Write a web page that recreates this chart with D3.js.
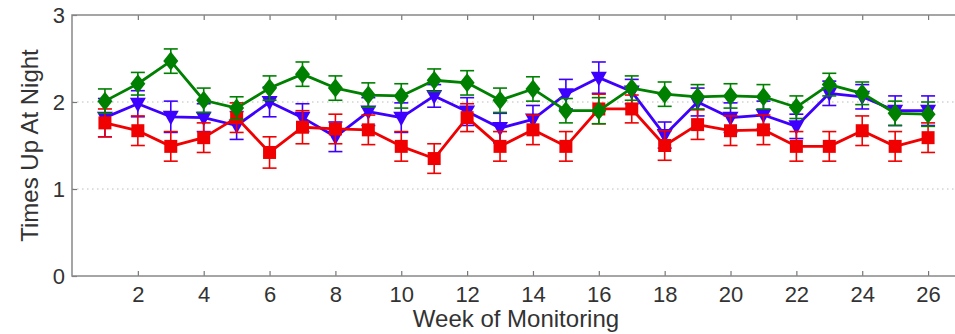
<!DOCTYPE html>
<meta charset="utf-8">
<style>
body { margin: 0; background: #fff; }
svg { font-family: "Liberation Sans", Arial, sans-serif; }
.axis text { font-size: 22px; fill: #333; }
.axis line { stroke: #777; stroke-width: 1.2; }
.axis path { display: none; }
.frame { fill: none; stroke: #888; stroke-width: 1.5; }
.grid line { stroke: #bbb; stroke-dasharray: 1.5,3.5; }
.label { font-size: 24px; fill: #333; }
</style>
<body>
<script src="https://cdn.jsdelivr.net/npm/d3@7"></script>
<script>

var width = 955,
    height = 334,
    margin = {top: 15, right: -6, bottom: 58, left: 72};

// weeks of monitoring
var weeks = d3.range(1, 27);

// mean times up at night, per group
var greenVals = [2.01, 2.21, 2.47, 2.02, 1.93, 2.16, 2.32, 2.16, 2.08, 2.07, 2.25, 2.22, 2.02,
                 2.15, 1.90, 1.90, 2.16, 2.09, 2.06, 2.07, 2.06, 1.94, 2.20, 2.10, 1.87, 1.86];
var blueVals  = [1.82, 1.98, 1.83, 1.82, 1.73, 2.00, 1.82, 1.60, 1.89, 1.82, 2.07, 1.89, 1.70,
                 1.80, 2.09, 2.28, 2.12, 1.62, 2.00, 1.82, 1.85, 1.72, 2.10, 2.06, 1.90, 1.90];
var redVals   = [1.76, 1.67, 1.49, 1.59, 1.82, 1.42, 1.71, 1.69, 1.68, 1.49, 1.35, 1.82, 1.49,
                 1.68, 1.49, 1.92, 1.92, 1.50, 1.74, 1.67, 1.68, 1.49, 1.49, 1.67, 1.49, 1.59];

// standard errors
var greenErr = [0.14, 0.13, 0.14, 0.14, 0.13, 0.14, 0.14, 0.14, 0.14, 0.14, 0.13, 0.14, 0.14,
                0.14, 0.14, 0.15, 0.14, 0.14, 0.14, 0.14, 0.14, 0.13, 0.13, 0.13, 0.14, 0.14];
var blueErr   = [0.22, 0.15, 0.18, 0.16, 0.16, 0.17, 0.16, 0.17, 0.16, 0.17, 0.13, 0.16, 0.17,
                0.16, 0.17, 0.18, 0.14, 0.15, 0.16, 0.17, 0.16, 0.14, 0.14, 0.14, 0.17, 0.17];
var redErr    = [0.16, 0.17, 0.17, 0.17, 0.17, 0.18, 0.19, 0.17, 0.17, 0.17, 0.17, 0.16, 0.17,
                0.17, 0.17, 0.17, 0.16, 0.17, 0.17, 0.17, 0.17, 0.17, 0.17, 0.17, 0.17, 0.17];

var yTicks = [0, 1, 2, 3],
    xTicks = d3.range(2, 27, 2);

var x = d3.scaleLinear().domain([0, 27]).range([margin.left, width - margin.right]);
var y = d3.scaleLinear().domain([0, 3]).range([height - margin.bottom, margin.top]);

var svg = d3.select("body").append("svg")
    .attr("width", width)
    .attr("height", height);

// dotted grid
svg.append("g")
    .attr("class", "grid")
  .selectAll("line")
    .data([1, 2])
  .enter().append("line")
    .attr("x1", x(0)).attr("x2", x(27))
    .attr("y1", function(d) { return y(d); })
    .attr("y2", function(d) { return y(d); });

// axes (ticks point inward on all four sides)
svg.append("g")
    .attr("class", "axis")
    .attr("transform", "translate(0," + y(0) + ")")
    .call(d3.axisBottom(x).tickValues(xTicks).tickSizeInner(-5).tickSizeOuter(0).tickPadding(10));

svg.append("g")
    .attr("class", "axis")
    .attr("transform", "translate(0," + y(3) + ")")
    .call(d3.axisTop(x).tickValues(xTicks).tickSizeInner(-5).tickSizeOuter(0).tickFormat(""));

svg.append("g")
    .attr("class", "axis")
    .attr("transform", "translate(" + x(0) + ",0)")
    .call(d3.axisLeft(y).tickValues(yTicks).tickFormat(d3.format("d"))
      .tickSizeInner(-5).tickSizeOuter(0).tickPadding(7));

svg.append("g")
    .attr("class", "axis")
    .attr("transform", "translate(" + x(27) + ",0)")
    .call(d3.axisRight(y).tickValues(yTicks).tickSizeInner(-5).tickSizeOuter(0).tickFormat(""));

svg.append("rect")
    .attr("class", "frame")
    .attr("x", x(0))
    .attr("y", y(3))
    .attr("width", x(27) - x(0))
    .attr("height", y(0) - y(3));

// labels
svg.append("text")
    .attr("class", "label")
    .attr("text-anchor", "middle")
    .attr("x", 516)
    .attr("y", 327)
    .text("Week of Monitoring");

svg.append("text")
    .attr("class", "label")
    .attr("text-anchor", "middle")
    .attr("transform", "translate(38," + y(1.5) + ") rotate(-90)")
    .text("Times Up At Night");

// series
var series = [
  {name: "blue",  color: "#3d00ff", vals: blueVals,  err: blueErr,  symbol: "tri"},
  {name: "red",   color: "#f00000", vals: redVals,   err: redErr,   symbol: "square"},
  {name: "green", color: "#008000", vals: greenVals, err: greenErr, symbol: "diamond"}
];

var line = d3.line()
    .x(function(d) { return x(d.w); })
    .y(function(d) { return y(d.v); });

var capW = 7;

series.forEach(function(s) {
  var data = weeks.map(function(w, i) { return {w: w, v: s.vals[i], e: s.err[i]}; });
  var g = svg.append("g").attr("class", "series " + s.name);

  // error bars
  var eb = g.selectAll(".eb").data(data).enter().append("g").attr("class", "eb")
      .attr("stroke", s.color).attr("stroke-width", 1.6);
  eb.append("line")
      .attr("x1", function(d) { return x(d.w); }).attr("x2", function(d) { return x(d.w); })
      .attr("y1", function(d) { return y(d.v - d.e); }).attr("y2", function(d) { return y(d.v + d.e); });
  eb.append("line")
      .attr("x1", function(d) { return x(d.w) - capW; }).attr("x2", function(d) { return x(d.w) + capW; })
      .attr("y1", function(d) { return y(d.v + d.e); }).attr("y2", function(d) { return y(d.v + d.e); });
  eb.append("line")
      .attr("x1", function(d) { return x(d.w) - capW; }).attr("x2", function(d) { return x(d.w) + capW; })
      .attr("y1", function(d) { return y(d.v - d.e); }).attr("y2", function(d) { return y(d.v - d.e); });

  g.append("path")
      .datum(data)
      .attr("fill", "none")
      .attr("stroke", s.color)
      .attr("stroke-width", 2.8)
      .attr("stroke-linejoin", "round")
      .attr("d", line);

  var shape;
  if (s.symbol == "square") shape = "M-6.5,-6.5H6.5V6.5H-6.5Z";
  else if (s.symbol == "diamond") shape = "M0,-9.5L7.5,0L0,9.5L-7.5,0Z";
  else shape = "M-8,-6H8L0,8.5Z";

  g.selectAll(".mk").data(data).enter().append("path")
      .attr("class", "mk")
      .attr("transform", function(d) { return "translate(" + x(d.w) + "," + y(d.v) + ")"; })
      .attr("d", shape)
      .attr("fill", s.color);
});

</script>
